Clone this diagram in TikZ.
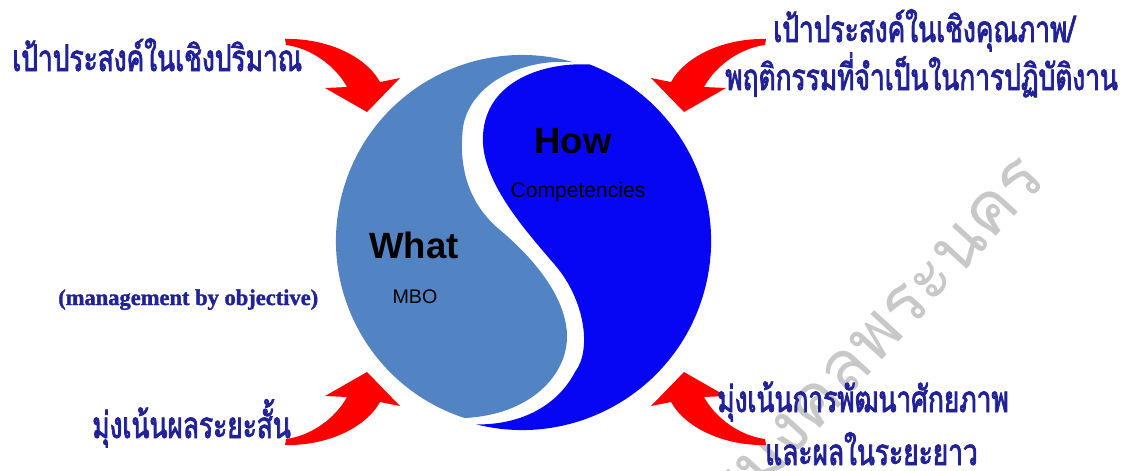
\documentclass[tikz,border=0pt]{standalone}
\usepackage{fontspec}
\setmainfont{Liberation Sans}
\newfontfamily\thaifont[Script=Thai,FakeStretch=0.72,FakeBold=2.2]{Loma}
\newfontfamily\stampfont[Script=Thai]{Loma}
\newfontfamily\objfont[FakeBold=1.5]{Liberation Serif}
\definecolor{whatblue}{RGB}{82,132,196}
\definecolor{howblue}{RGB}{6,6,244}
\definecolor{goalnavy}{RGB}{34,34,152}
\definecolor{stampgray}{RGB}{200,200,200}
\tikzset{
	goaltext/.style = {inner sep=0pt, anchor=base west, text=goalnavy, font=\thaifont\fontsize{26}{30}\selectfont},
	bigword/.style = {inner sep=0pt, anchor=base, font=\bfseries\fontsize{26}{30}\selectfont},
	smallword/.style = {inner sep=0pt, anchor=base, font=\fontsize{14}{16}\selectfont},
	objtext/.style = {inner sep=0pt, anchor=base west, text=goalnavy, font=\objfont\bfseries\fontsize{16}{18}\selectfont},
	stamp/.style = {inner sep=0pt, text=stampgray, font=\stampfont\fontsize{50}{58}\selectfont},
	arrowfill/.style = {fill=red}
}
% one bent arrow, drawn for the upper left place
\newcommand{\redbend}{
	\fill[arrowfill] (285,431) .. controls (325,432) and (365,415) .. (380,388)
		-- (400,392) -- (367,358) -- (325,382) -- (347,383)
		.. controls (335,405) and (310,422) .. (286,425) -- cycle;
}

\begin{document}
\begin{tikzpicture}[x=0.025cm, y=0.025cm]
	\useasboundingbox (0,0) rectangle (1132,470);
	\begin{scope}
		\clip (0,0) rectangle (1132,470);
		\node[stamp, rotate=47.5, anchor=base east] (stampword) at (1048,290) {ราชมงคลพระนคร};
	\end{scope}

	% the two halves
	\fill[whatblue] (573.3,407.8) arc[start angle=74, end angle=252, radius=4.65cm]
		.. controls (530,55) and (568,95) .. (567,135)
		.. controls (566,175) and (530,215) .. (500,240)
		.. controls (470,265) and (458,300) .. (463,343)
		.. controls (470,385) and (520,412) .. (573.3,407.8) -- cycle;
	\fill[howblue] (476.3,45.6) arc[start angle=256, end angle=429, radius=4.725cm]
		.. controls (545,408) and (486,390) .. (483,335)
		.. controls (480,290) and (525,240) .. (555,205)
		.. controls (585,170) and (592,120) .. (575,98)
		.. controls (555,60) and (515,45) .. (476.3,45.6) -- cycle;

	\node[bigword] (how) at (573,317) {How};
	\node[smallword, font=\fontsize{15}{17}\selectfont] (comp) at (578,273) {Competencies};
	\node[bigword] (what) at (414,212) {What};
	\node[smallword] (mbo) at (415,167) {MBO};

	% arrows
	\redbend
	\begin{scope}[shift={(1051,0)}, xscale=-1]
		\redbend
	\end{scope}
	\begin{scope}[shift={(0,456)}, yscale=-1]
		\redbend
	\end{scope}
	\begin{scope}[shift={(1051,456)}, scale=-1]
		\redbend
	\end{scope}

	% goals
	\node[goaltext] (qty) at (12,399) {เป้าประสงค์ในเชิงปริมาณ};
	\node[goaltext] (quality) at (773,428) {เป้าประสงค์ในเชิงคุณภาพ/};
	\node[goaltext] (behave) at (725,380) {พฤติกรรมที่จำเป็นในการปฏิบัติงาน};
	\node[goaltext] (short) at (92,32) {มุ่งเน้นผลระยะสั้น};
	\node[goaltext] (develop) at (717,58) {มุ่งเน้นการพัฒนาศักยภาพ};
	\node[goaltext] (long) at (765,5) {และผลในระยะยาว};
	\node[objtext] (mbofull) at (58,165) {(management by objective)};
\end{tikzpicture}
\end{document}
